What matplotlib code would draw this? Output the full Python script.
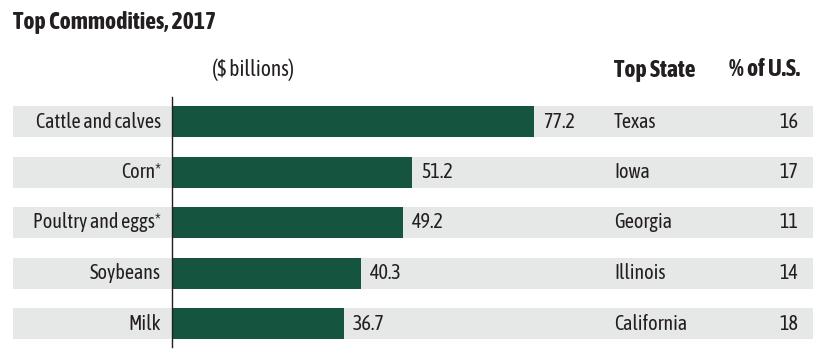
import matplotlib
matplotlib.use("Agg")
import matplotlib.pyplot as plt

plt.rcParams['font.family'] = ['Asap Condensed', 'Roboto Condensed', 'Liberation Sans Narrow', 'DejaVu Sans']

# data
commodities = ['Cattle and calves', 'Corn*', 'Poultry and eggs*', 'Soybeans', 'Milk']
values = [77.2, 51.2, 49.2, 40.3, 36.7]
top_states = ['Texas', 'Iowa', 'Georgia', 'Illinois', 'California']
pct_us = [16, 17, 11, 14, 18]

green = '#15543F'
gray = '#E6E7E7'
txt = '#231F20'

W, H = 835, 363
fig = plt.figure(figsize=(W / 100, H / 100), dpi=100)
ax = fig.add_axes([0, 0, 1, 1])

# pixel layout -> data units
x0_px = 172.0
px_per_unit = 4.69
row0_px = 121.5
row_px = 50.5
ax.set_xlim(-x0_px / px_per_unit, (W - x0_px) / px_per_unit)
ax.set_ylim((H - row0_px) / row_px, -row0_px / row_px)
ax.axis('off')

def px_x(p):
    return (p - x0_px) / px_per_unit

def px_y(p):
    return (p - row0_px) / row_px

rows = list(range(len(commodities)))
bh = 31 / row_px

# grey bands
band_left = px_x(13)
band_right = px_x(813)
ax.barh(rows, [band_right - band_left] * len(rows), left=band_left, height=bh, color=gray, zorder=1)
# bars
ax.barh(rows, values, height=bh, color=green, zorder=2)
ax.plot([0, 0], [px_y(97), px_y(347)], color=txt, lw=1, zorder=3)

fs = 14.5
fs_b = 17
for i, (c, v, s, p) in enumerate(zip(commodities, values, top_states, pct_us)):
    ax.text(px_x(161), i, c, ha='right', va='center', fontsize=fs, color=txt)
    ax.text(v + 9 / px_per_unit, i, f'{v:.1f}', ha='left', va='center', fontsize=fs, color=txt)
    ax.text(px_x(614), i, s, ha='left', va='center', fontsize=fs, color=txt)
    ax.text(px_x(798), i, str(p), ha='right', va='center', fontsize=fs, color=txt)

ax.text(px_x(13), px_y(22), 'Top Commodities, 2017', ha='left', va='center',
        fontsize=fs_b, fontweight='bold', color=txt)
ax.text(px_x(253), px_y(70), '($ billions)', ha='center', va='center', fontsize=fs + 1, color=txt)
ax.text(px_x(614), px_y(70), 'Top State', ha='left', va='center', fontsize=fs_b,
        fontweight='bold', color=txt)
ax.text(px_x(800), px_y(70), '% of U.S.', ha='right', va='center', fontsize=fs_b,
        fontweight='bold', color=txt)

fig.savefig('out.png', dpi=100)
